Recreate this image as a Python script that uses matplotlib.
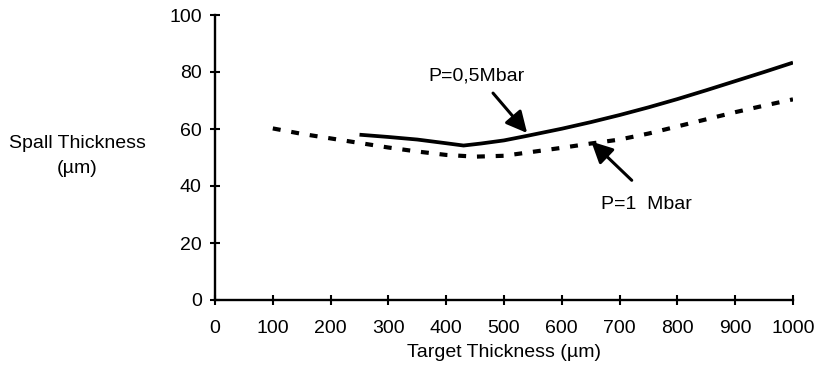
import matplotlib
matplotlib.use("Agg")
import matplotlib.pyplot as plt

# Data
x_p05 = [250, 300, 350, 400, 430, 460, 500, 540, 600, 650, 700, 750, 800, 850, 900, 950, 1000]
y_p05 = [58, 57.2, 56.3, 55, 54.2, 54.9, 56, 57.6, 60.1, 62.4, 64.9, 67.6, 70.5, 73.6, 76.8, 80, 83.3]

x_p1 = [100, 150, 200, 250, 300, 350, 400, 450, 500, 550, 600, 650, 700, 750, 800, 850, 900, 950, 1000]
y_p1 = [60.2, 58.3, 56.7, 55.1, 53.5, 52.1, 50.9, 50.3, 50.6, 52.0, 53.4, 54.9, 56.3, 58.4, 60.9, 63.4, 65.9, 68.2, 70.4]

xticks = [0, 100, 200, 300, 400, 500, 600, 700, 800, 900, 1000]
yticks = [0, 20, 40, 60, 80, 100]

plt.rcParams['font.family'] = ['Liberation Sans', 'DejaVu Sans']

fig = plt.figure(figsize=(8.17, 3.66), dpi=100)
ax = fig.add_axes([215/817, 1-300/366, (793-215)/817, (300-15)/366])

ax.plot(x_p05, y_p05, color='black', lw=2.7, solid_capstyle='butt', solid_joinstyle='round')
ax.plot(x_p1, y_p1, color='black', lw=3.0, linestyle=(0, (1.9, 2.6)), dash_capstyle='butt')

arrow_kw = dict(arrowstyle='-|>', color='black', lw=2.2, mutation_scale=32, shrinkA=0, shrinkB=0)
ax.text(452, 78.5, 'P=0,5Mbar', ha='center', va='center', fontsize=14)
ax.annotate('', xy=(540, 58.6), xytext=(481, 72.6), arrowprops=arrow_kw)
ax.text(746, 33.5, 'P=1  Mbar', ha='center', va='center', fontsize=14)
ax.annotate('', xy=(651, 55.6), xytext=(721, 42), arrowprops=arrow_kw)

ax.set_xlim(0, 1000)
ax.set_ylim(0, 100)
ax.set_xticks(xticks)
ax.set_yticks(yticks)
ax.spines['top'].set_visible(False)
ax.spines['right'].set_visible(False)
for s in ('left', 'bottom'):
    ax.spines[s].set_linewidth(1.7)
ax.tick_params(direction='inout', length=7, width=1.5, labelsize=14)
ax.tick_params(axis='x', pad=11)
ax.tick_params(axis='y', pad=6)
for sp in ax.spines.values():
    sp.set_clip_on(False)

ax.set_xlabel('Target Thickness (µm)', fontsize=14, labelpad=5)
fig.text(77/817, 1-144/366, 'Spall Thickness', ha='center', va='center', fontsize=14)
fig.text(77/817, 1-169/366, '(µm)', ha='center', va='center', fontsize=14)

fig.savefig('out.png', dpi=100)
